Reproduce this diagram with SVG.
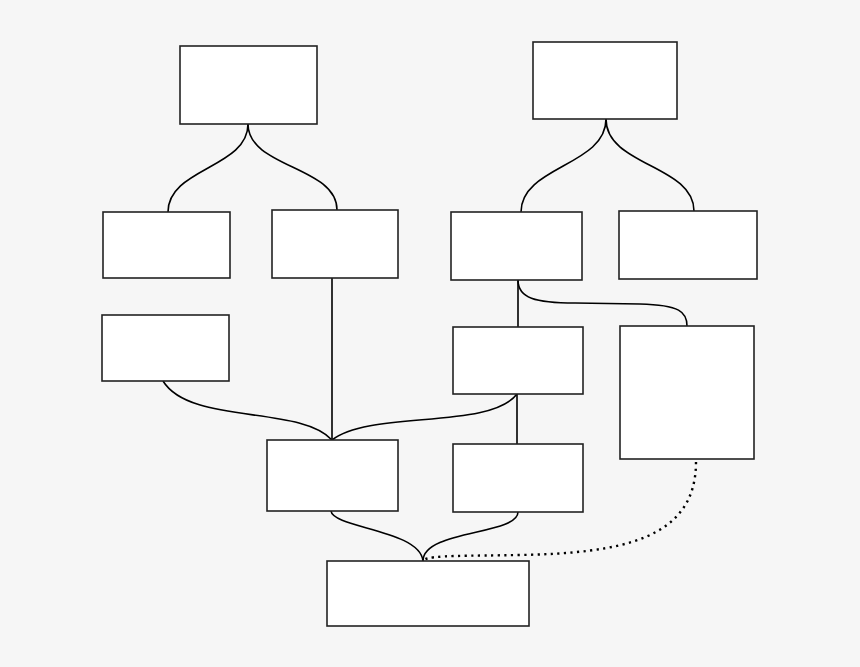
<svg xmlns="http://www.w3.org/2000/svg" width="860" height="667" viewBox="0 0 860 667">
<style>
.box{fill:#ffffff;stroke:#222222;stroke-width:1.6}
.c{fill:none;stroke:#000000;stroke-width:1.6}
.d{fill:none;stroke:#000000;stroke-width:2.4;stroke-dasharray:2.2 4.4}
</style>
<rect x="0" y="0" width="860" height="667" fill="#f6f6f6"/>
<g id="connectors">
<path class="c" d="M248,124 C248,168 168,168 168,212"/>
<path class="c" d="M248,124 C248,168 337,166 337,210"/>
<path class="c" d="M606,119 C606,166 521,166 521,212"/>
<path class="c" d="M606,119 C606,166 694,165 694,211"/>
<path class="c" d="M332,278 L332,440"/>
<path class="c" d="M163,381 C190,425 300,405 332,440"/>
<path class="c" d="M517,394 C490,430 370,410 332,440"/>
<path class="c" d="M518,280 L518,327"/>
<path class="c" d="M518,280 C518,298 535,303 575,303 L640,304 C680,305 687,312 687,326"/>
<path class="c" d="M517,394 L517,444"/>
<path class="c" d="M331,511 C333,528 420,530 423,561"/>
<path class="c" d="M518,512 C518,535 423,530 423,561"/>
<path class="d" d="M696,462 C696,540 620,553 520,555 C470,556 430,555 424,560"/>
</g>
<g id="n1"><rect class="box" x="180" y="46" width="137" height="78"/></g>
<g id="n2"><rect class="box" x="533" y="42" width="144" height="77"/></g>
<g id="n3"><rect class="box" x="103" y="212" width="127" height="66"/></g>
<g id="n4"><rect class="box" x="272" y="210" width="126" height="68"/></g>
<g id="n5"><rect class="box" x="451" y="212" width="131" height="68"/></g>
<g id="n6"><rect class="box" x="619" y="211" width="138" height="68"/></g>
<g id="n7"><rect class="box" x="102" y="315" width="127" height="66"/></g>
<g id="n8"><rect class="box" x="453" y="327" width="130" height="67"/></g>
<g id="n9"><rect class="box" x="620" y="326" width="134" height="133"/></g>
<g id="n10"><rect class="box" x="267" y="440" width="131" height="71"/></g>
<g id="n11"><rect class="box" x="453" y="444" width="130" height="68"/></g>
<g id="n12"><rect class="box" x="327" y="561" width="202" height="65"/></g>
</svg>
